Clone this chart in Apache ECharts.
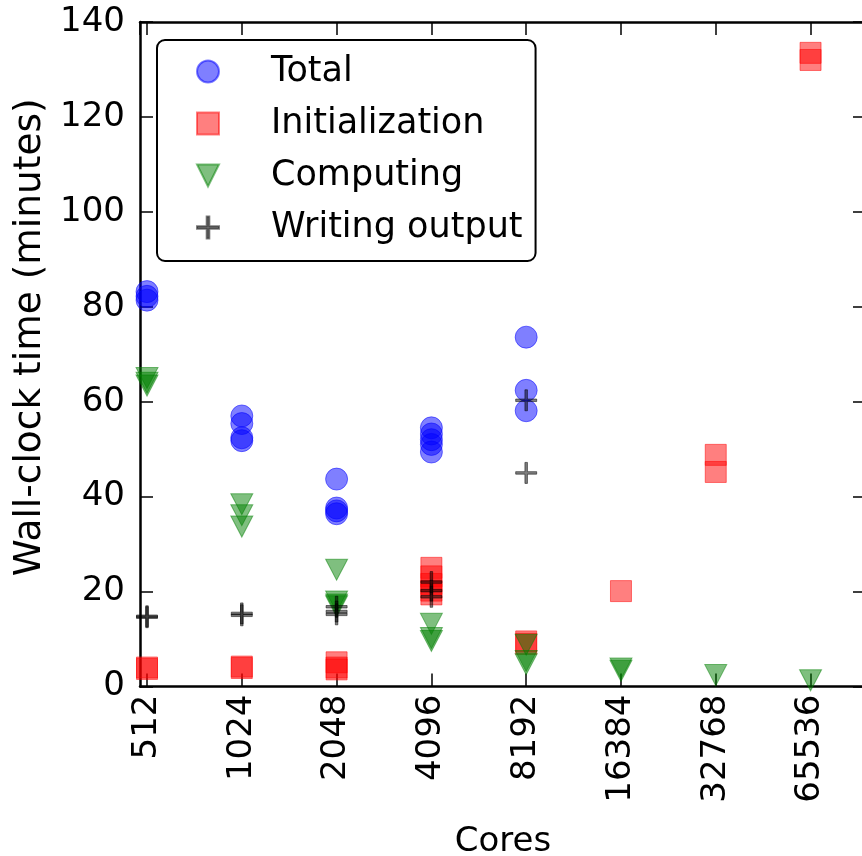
<!DOCTYPE html>
<html>
<head>
<meta charset="utf-8">
<script src="https://cdn.jsdelivr.net/npm/echarts@6/dist/echarts.min.js"></script>
<style>
html,body{margin:0;padding:0;background:#fff;}
#chart{width:862px;height:856px;}
</style>
</head>
<body>
<div id="chart"></div>
<script>
// ---- data: [cores, minutes] ----
const coreTicks = [512, 1024, 2048, 4096, 8192, 16384, 32768, 65536];
const yTicks = [0, 20, 40, 60, 80, 100, 120, 140];

const totalPoints = [
  [512, 83.2], [512, 82.2], [512, 81.4],
  [1024, 57], [1024, 55.4], [1024, 52.4], [1024, 51.8],
  [2048, 43.7], [2048, 37.6], [2048, 37], [2048, 36.4],
  [4096, 54.5], [4096, 53.2], [4096, 52], [4096, 51], [4096, 49.4],
  [8192, 73.6], [8192, 62.4], [8192, 58.1]
];
const initPoints = [
  [512, 4], [512, 3.7],
  [1024, 4.2], [1024, 3.9],
  [2048, 5.1], [2048, 4], [2048, 3.6],
  [4096, 25], [4096, 23.2], [4096, 21.6], [4096, 20.2], [4096, 19.4],
  [8192, 9.5], [8192, 9],
  [16384, 20.1],
  [32768, 48.8], [32768, 45.2],
  [65536, 133.5], [65536, 132]
];
const computePoints = [
  [512, 65], [512, 64], [512, 63.4],
  [1024, 38.4], [1024, 36.1], [1024, 33.7],
  [2048, 24.6], [2048, 17.9], [2048, 17.3], [2048, 16.9],
  [4096, 13.2], [4096, 10.2], [4096, 9.6],
  [8192, 8.8], [8192, 5.4], [8192, 4.7],
  [16384, 3.8], [16384, 3.3],
  [32768, 2.4],
  [65536, 1.3]
];
const writePoints = [
  [512, 14.6], [512, 14.8],
  [1024, 15.4], [1024, 15],
  [2048, 16.8], [2048, 15.8], [2048, 15.2],
  [4096, 22], [4096, 20.2], [4096, 18.9],
  [8192, 60.3], [8192, 45]
];

const triDown = 'path://M-1,-1L1,-1L0,1Z';
const plus = 'path://M-1,-0.12L-0.12,-0.12L-0.12,-1L0.12,-1L0.12,-0.12L1,-0.12L1,0.12L0.12,0.12L0.12,1L-0.12,1L-0.12,0.12L-1,0.12Z';

const FONT = 'DejaVu Sans';
const chart = echarts.init(document.getElementById('chart'), null, {renderer: 'canvas'});

function xAx(pos, showLabels) {
  return {
    type: 'log', logBase: 2, position: pos,
    min: 486.4, max: 98304,
    name: showLabels ? 'Cores' : '',
    nameLocation: 'middle', nameGap: 139,
    nameTextStyle: {fontFamily: FONT, fontSize: 34, color: '#000'},
    axisLine: {show: true, onZero: false, lineStyle: {color: '#000', width: 2.5}},
    axisTick: {show: true, inside: true, length: 13, lineStyle: {color: '#000', width: 1.5}},
    splitLine: {show: false},
    minorTick: {show: false},
    axisLabel: {
      show: showLabels, rotate: 90, margin: 8,
      showMinLabel: false, showMaxLabel: false,
      fontFamily: FONT, fontSize: 34, color: '#000',
      formatter: v => String(Math.round(v))
    }
  };
}
function yAx(pos, showLabels) {
  return {
    type: 'value', position: pos,
    min: yTicks[0], max: yTicks[yTicks.length - 1], interval: 20,
    name: showLabels ? 'Wall-clock time (minutes)' : '',
    nameLocation: 'middle', nameGap: 89,
    nameTextStyle: {fontFamily: FONT, fontSize: 37.5, color: '#000', padding: [0, 0, 0, 34]},
    axisLine: {show: true, lineStyle: {color: '#000', width: 2.5}},
    axisTick: {show: true, inside: true, length: 13, lineStyle: {color: '#000', width: 1.5}},
    splitLine: {show: false},
    axisLabel: {show: showLabels, margin: 15, fontFamily: FONT, fontSize: 34, color: '#000'}
  };
}

function sc(name, data, symbol, size, rgb) {
  return {
    name, type: 'scatter', data, symbol, symbolSize: size,
    xAxisIndex: 0, yAxisIndex: 0,
    itemStyle: {color: 'rgba(' + rgb + ',0.5)', borderColor: 'rgba(' + rgb + ',0.5)', borderWidth: 1, opacity: 1},
    emphasis: {disabled: true}
  };
}

chart.setOption({
  animation: false,
  backgroundColor: '#fff',
  grid: {left: 140, top: 22, width: 726, bottom: 169.5, containLabel: false, outerBoundsMode: 'none'},
  xAxis: [xAx('bottom', true), xAx('top', false)],
  yAxis: [yAx('left', true), yAx('right', false)],
  legend: {
    orient: 'vertical', left: 157, top: 40,
    padding: [14, 13, 16, 39],
    itemGap: 17, itemWidth: 22, itemHeight: 22,
    borderColor: '#000', borderWidth: 2, borderRadius: 8,
    backgroundColor: '#fff',
    textStyle: {fontFamily: FONT, fontSize: 35, color: '#000', padding: [0, 0, 0, 47]},
    data: [
      {name: 'Total', icon: 'circle'},
      {name: 'Initialization', icon: 'rect'},
      {name: 'Computing', icon: triDown},
      {name: 'Writing output', icon: plus}
    ],
    selectedMode: false
  },
  series: [
    sc('Total', totalPoints, 'circle', 22, '0,0,255'),
    sc('Initialization', initPoints, 'rect', 21, '255,0,0'),
    sc('Computing', computePoints, triDown, [22, 21], '0,128,0'),
    sc('Writing output', writePoints, plus, 21, '0,0,0')
  ]
});
</script>
</body>
</html>
